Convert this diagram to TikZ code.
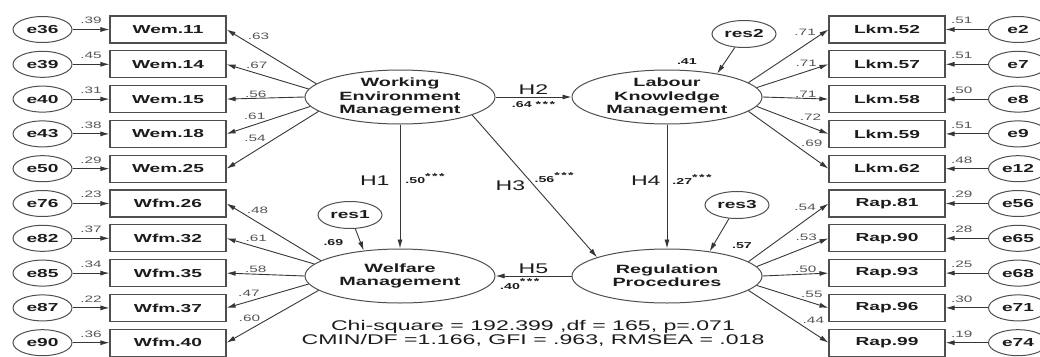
\documentclass[tikz,border=0pt]{standalone}
\usepackage{fontspec}
\setmainfont{Liberation Sans}[FakeStretch=1.65]
\usetikzlibrary{arrows.meta,shapes.geometric}
\definecolor{semline}{HTML}{363636}
\definecolor{semgray}{HTML}{4F4F4F}
\definecolor{semtext}{HTML}{1C1C1C}
\definecolor{ldgray}{HTML}{555555}
\newcommand{\sigstars}{\raisebox{4pt}{*\,*\,*}}

\begin{document}
\begin{tikzpicture}[
    x=1pt, y=-1pt,
    >={Latex[length=9pt,width=5pt]},
    ind/.style={draw=semgray, line width=1.1pt, minimum width=116pt, minimum height=27pt,
      inner sep=0pt, text=semtext, font=\fontsize{11.6}{13}\selectfont\bfseries},
    err/.style={ellipse, draw=semgray, line width=1pt, minimum width=59pt, minimum height=26pt,
      inner sep=0pt, text=semtext, font=\fontsize{11.6}{13}\selectfont\bfseries},
    res/.style={err, minimum width=64pt, minimum height=27pt},
    lat/.style={ellipse, draw=semgray, line width=1pt, minimum width=190pt, minimum height=54pt,
      inner sep=0pt, align=center, text=semtext, font=\fontsize{12}{13.3}\selectfont\bfseries},
    semarrow/.style={->, semline, line width=0.9pt},
    ld/.style={font=\fontsize{9.3}{10}\selectfont, text=ldgray, inner sep=1pt},
    coef/.style={font=\fontsize{8.6}{10}\selectfont\bfseries, text=semtext, inner sep=1pt},
    hyp/.style={font=\fontsize{14}{15}\selectfont, text=semtext, inner sep=1pt},
    stats/.style={align=center, text=semtext, font=\fontsize{14}{14}\selectfont}
  ]
  \useasboundingbox (0,0) rectangle (1040,356);

  % Latent variables
  \node[lat] (wem) at (400,97) {Working\\Environment\\Management};
  \node[lat] (lkm) at (667,97) {Labour\\Knowledge\\Management};
  \node[lat] (wfm) at (400,276) {Welfare\\Management};
  \node[lat] (rp) at (667,276) {Regulation\\Procedures};

  % Residuals
  \node[res] (res1) at (350,215) {res1};
  \node[res] (res2) at (744,34) {res2};
  \node[res] (res3) at (737,205) {res3};

  % Working environment indicators
  \foreach \en/\bn/\ev/\ld/\ang/\p/\an [count=\i from 0] in {
      e36/Wem.11/.39/.63/171/.78/south west, e39/Wem.14/.45/.67/175/.78/south west,
      e40/Wem.15/.31/.56/180/.78/south west, e43/Wem.18/.38/.61/186/.52/south east,
      e50/Wem.25/.29/.54/190/.56/south east}{
    \pgfmathsetmacro\ry{29.5+34.8*\i}
    \node[ind] (wem\i) at (168,\ry) {\bn};
    \node[err] (ewem\i) at (42.5,\ry) {\en};
    \draw[semarrow] (ewem\i) -- (wem\i) node[ld, midway, above=4pt] {\ev};
    \draw[semarrow] (wem.\ang) -- (wem\i.east) node[ld, pos=\p, anchor=\an] {\ld};
  }

  % Welfare indicators
  \foreach \en/\bn/\ev/\ld/\ang/\p/\an [count=\i from 5] in {
      e76/Wfm.26/.23/.48/169/.8/south west, e82/Wfm.32/.37/.61/172/.8/south west,
      e85/Wfm.35/.34/.58/180/.78/south west, e87/Wfm.37/.22/.47/185/.58/south east,
      e90/Wfm.40/.36/.60/190/.62/south east}{
    \pgfmathsetmacro\ry{29.5+34.8*\i}
    \node[ind] (wfm\i) at (168,\ry) {\bn};
    \node[err] (ewfm\i) at (42.5,\ry) {\en};
    \draw[semarrow] (ewfm\i) -- (wfm\i) node[ld, midway, above=4pt] {\ev};
    \draw[semarrow] (wfm.\ang) -- (wfm\i.east) node[ld, pos=\p, anchor=\an] {\ld};
  }

  % Labour knowledge indicators
  \foreach \en/\bn/\ev/\ld/\ang/\p/\an [count=\i from 0] in {
      e2/Lkm.52/.51/.71/10/.86/south east, e7/Lkm.57/.51/.71/6/.86/south east,
      e8/Lkm.58/.50/.71/0/.84/south east, e9/Lkm.59/.51/.72/354/.58/south west,
      e12/Lkm.62/.48/.69/350/.64/south west}{
    \pgfmathsetmacro\ry{29.5+34.8*\i}
    \node[ind] (lkm\i) at (887,\ry) {\bn};
    \node[err] (elkm\i) at (1018,\ry) {\en};
    \draw[semarrow] (elkm\i) -- (lkm\i) node[ld, pos=.62, above=4pt] {\ev};
    \draw[semarrow] (lkm.\ang) -- (lkm\i.west) node[ld, pos=\p, anchor=\an] {\ld};
  }

  % Regulation indicators
  \foreach \en/\bn/\ev/\ld/\ang/\p/\an [count=\i from 5] in {
      e56/Rap.81/.29/.54/10/.86/south east, e65/Rap.90/.28/.53/6/.86/south east,
      e68/Rap.93/.25/.50/0/.84/south east, e71/Rap.96/.30/.55/354/.6/south west,
      e74/Rap.99/.19/.44/350/.66/south west}{
    \pgfmathsetmacro\ry{29.5+34.8*\i}
    \node[ind] (rp\i) at (887,\ry) {\bn};
    \node[err] (erp\i) at (1018,\ry) {\en};
    \draw[semarrow] (erp\i) -- (rp\i) node[ld, pos=.62, above=4pt] {\ev};
    \draw[semarrow] (rp.\ang) -- (rp\i.west) node[ld, pos=\p, anchor=\an] {\ld};
  }

  % Structural paths
  \draw[semarrow] (wem) -- (lkm)
    node[hyp, midway, above=1pt] {H2} node[coef, midway, below=3pt] {.64 *\,*\,*};
  \draw[semarrow] (wem) -- (wfm)
    node[hyp, pos=.45, left=9pt] {H1} node[coef, pos=.44, right=4pt] {.50\sigstars};
  \draw[semarrow] (wem.346) -- (rp.165)
    node[hyp, pos=.5, left=8pt] {H3} node[coef, pos=.44, right=6pt] {.56\sigstars};
  \draw[semarrow] (lkm) -- (rp)
    node[hyp, pos=.45, left=5pt] {H4} node[coef, pos=.44, right=4pt] {.27\sigstars};
  \draw[semarrow] (rp) -- (wfm)
    node[hyp, midway, above=1pt] {H5} node[coef, pos=.68, below=1pt] {.40\raisebox{5pt}{*\,*\,*}};

  % Residual paths
  \draw[semarrow] (res1) -- (wfm.145)
    node[coef, at end, anchor=south east, xshift=-19pt, yshift=4pt] {.69};
  \draw[semarrow] (res2) -- (lkm.25)
    node[coef, at end, anchor=south east, xshift=-19pt, yshift=8pt] {.41};
  \draw[semarrow] (res3) -- (rp.30)
    node[coef, at end, anchor=south west, xshift=21pt, yshift=1pt] {.57};

  % Fit indices
  \node[stats] (fitinfo) at (533,333) {Chi-square = 192.399 ,df = 165, p=.071\\CMIN/DF =1.166, GFI = .963, RMSEA = .018};
\end{tikzpicture}
\end{document}
